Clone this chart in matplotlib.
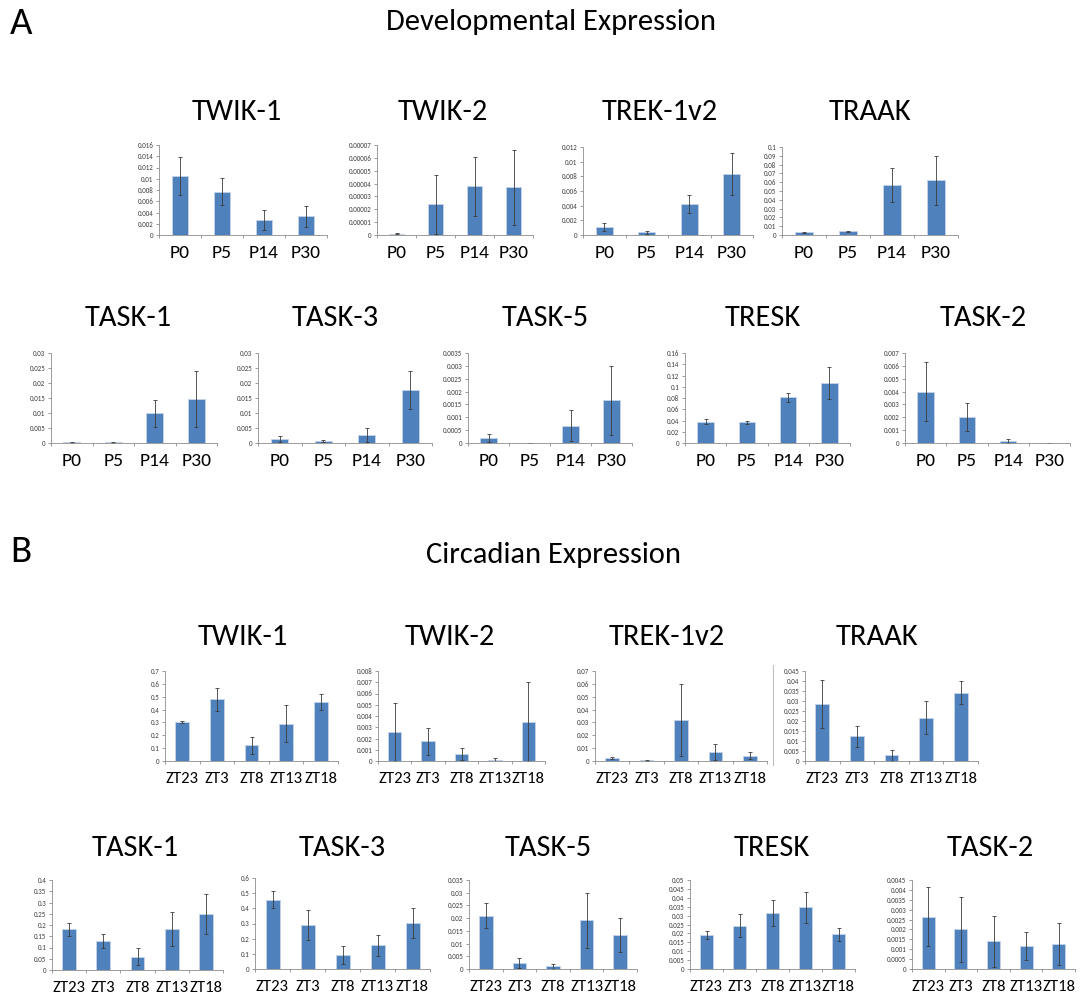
import matplotlib
matplotlib.use('Agg')
import matplotlib.pyplot as plt
from matplotlib.ticker import MultipleLocator, FuncFormatter
import numpy as np

W, H = 1081, 1000

# category labels
dev_labels = ['P0', 'P5', 'P14', 'P30']
circ_labels = ['ZT23', 'ZT3', 'ZT8', 'ZT13', 'ZT18']

# developmental expression (mean, error)
dev_twik1 = [0.0105, 0.0077, 0.0027, 0.0033]
dev_twik1_err = [0.0033, 0.0024, 0.0018, 0.0019]
dev_twik2 = [0.000001, 0.000024, 0.000038, 0.000037]
dev_twik2_err = [0.0000005, 0.000023, 0.000023, 0.0000295]
dev_trek = [0.0011, 0.0004, 0.0042, 0.0083]
dev_trek_err = [0.0005, 0.0002, 0.0012, 0.0029]
dev_traak = [0.003, 0.004, 0.057, 0.062]
dev_traak_err = [0.0005, 0.001, 0.019, 0.028]
dev_task1 = [0.0003, 0.0003, 0.0099, 0.0147]
dev_task1_err = [0.0002, 0.0002, 0.0044, 0.0093]
dev_task3 = [0.0014, 0.0007, 0.0027, 0.0176]
dev_task3_err = [0.0011, 0.0002, 0.0022, 0.0063]
dev_task5 = [0.00018, 0.0, 0.00068, 0.00166]
dev_task5_err = [0.00016, 0.0, 0.0006, 0.00133]
dev_tresk = [0.038, 0.037, 0.081, 0.107]
dev_tresk_err = [0.004, 0.003, 0.008, 0.029]
dev_task2 = [0.004, 0.002, 0.00015, 0.0]
dev_task2_err = [0.0023, 0.0011, 0.00015, 0.0]

# circadian expression (mean, error)
circ_twik1 = [0.305, 0.48, 0.122, 0.29, 0.462]
circ_twik1_err = [0.007, 0.09, 0.065, 0.143, 0.062]
circ_twik2 = [0.0026, 0.00175, 0.00065, 0.0001, 0.0035]
circ_twik2_err = [0.0026, 0.0012, 0.00055, 0.00015, 0.0035]
circ_trek = [0.0022, 0.0005, 0.032, 0.007, 0.0042]
circ_trek_err = [0.001, 0.0003, 0.028, 0.0065, 0.0027]
circ_traak = [0.0283, 0.0124, 0.0028, 0.0217, 0.0341]
circ_traak_err = [0.012, 0.0052, 0.0028, 0.0082, 0.0058]
circ_task1 = [0.181, 0.13, 0.06, 0.183, 0.251]
circ_task1_err = [0.028, 0.032, 0.036, 0.076, 0.089]
circ_task3 = [0.457, 0.288, 0.093, 0.155, 0.302]
circ_task3_err = [0.057, 0.1, 0.06, 0.068, 0.1]
circ_task5 = [0.021, 0.0025, 0.001, 0.0192, 0.0133]
circ_task5_err = [0.005, 0.002, 0.001, 0.0108, 0.0067]
circ_tresk = [0.0193, 0.0243, 0.0315, 0.0346, 0.0195]
circ_tresk_err = [0.0022, 0.0066, 0.0073, 0.0088, 0.0035]
circ_task2 = [0.00265, 0.002, 0.0014, 0.00115, 0.00126]
circ_task2_err = [0.0015, 0.00165, 0.0013, 0.0007, 0.00106]

# Carlito is metric-compatible with Calibri (the Excel look); Lato as fallback
plt.rcParams['font.family'] = ['Carlito', 'Lato', 'DejaVu Sans']
fig = plt.figure(figsize=(W / 100, H / 100), dpi=100)

BLUE = '#4f81bd'
GREY = '#8c8c8c'


def fmt(v, pos):
    s = f'{round(v, 10):.10f}'.rstrip('0').rstrip('.')
    return s


def panel(box, title, tx, ty, labels, means, errs, ymax, step):
    x0, y0, x1, y1 = box
    ax = fig.add_axes([x0 / W, 1 - y1 / H, (x1 - x0) / W, (y1 - y0) / H])
    x = np.arange(len(labels))
    ax.bar(x, means, width=0.4, color=BLUE, edgecolor='#c6d4e8', linewidth=0.6)
    ax.errorbar(x, means, yerr=errs, fmt='none', ecolor='#3a3a3a',
                elinewidth=0.6, capsize=1.5, capthick=0.6)
    ax.set_xlim(-0.5, len(labels) - 0.5)
    ax.set_ylim(0, ymax)
    ax.yaxis.set_major_locator(MultipleLocator(step))
    ax.yaxis.set_major_formatter(FuncFormatter(fmt))
    ax.set_xticks(x)
    # five ZT labels share a narrower slot than the four P labels
    five = len(labels) > 4
    ax.set_xticklabels(labels, fontsize=12 if five else 14)
    ax.set_xticks(np.arange(-0.5, len(labels)), minor=True)
    ax.tick_params(axis='x', which='major', length=0, pad=8 if five else 7)
    ax.tick_params(axis='x', which='minor', length=2.5, color=GREY, width=0.6)
    ax.tick_params(axis='y', length=2.5, color=GREY, width=0.6,
                   labelsize=5, labelcolor='#404040', pad=1.5)
    for s in ['top', 'right']:
        ax.spines[s].set_visible(False)
    for s in ['left', 'bottom']:
        ax.spines[s].set_color(GREY)
        ax.spines[s].set_linewidth(0.6)
    fig.text(tx / W, 1 - ty / H, title, fontsize=22, ha='center', va='center')
    return ax


# section headings
fig.text(21 / W, 1 - 24 / H, 'A', fontsize=28, ha='center', va='center')
fig.text(551 / W, 1 - 22 / H, 'Developmental Expression', fontsize=22,
         ha='center', va='center')
fig.text(21 / W, 1 - 552 / H, 'B', fontsize=28, ha='center', va='center')
fig.text(554 / W, 1 - 555 / H, 'Circadian Expression', fontsize=22,
         ha='center', va='center')

# row 1: developmental
panel((159, 145, 327, 235), 'TWIK-1', 237, 112, dev_labels, dev_twik1, dev_twik1_err, 0.016, 0.002)
panel((377, 145, 533, 235), 'TWIK-2', 443, 112, dev_labels, dev_twik2, dev_twik2_err, 0.00007, 0.00001)
panel((583, 147, 753, 235), 'TREK-1v2', 660, 112, dev_labels, dev_trek, dev_trek_err, 0.012, 0.002)
panel((782, 147, 958, 235), 'TRAAK', 870, 112, dev_labels, dev_traak, dev_traak_err, 0.1, 0.01)

# row 2: developmental
panel((51, 353, 217, 443), 'TASK-1', 128, 318, dev_labels, dev_task1, dev_task1_err, 0.03, 0.005)
panel((258, 353, 432, 443), 'TASK-3', 335, 318, dev_labels, dev_task3, dev_task3_err, 0.03, 0.005)
panel((468, 353, 632, 443), 'TASK-5', 545, 318, dev_labels, dev_task5, dev_task5_err, 0.0035, 0.0005)
panel((685, 353, 850, 443), 'TRESK', 763, 318, dev_labels, dev_tresk, dev_tresk_err, 0.16, 0.02)
panel((905, 353, 1070, 443), 'TASK-2', 983, 318, dev_labels, dev_task2, dev_task2_err, 0.007, 0.001)

# row 3: circadian
panel((165, 671, 338, 761), 'TWIK-1', 243, 637, circ_labels, circ_twik1, circ_twik1_err, 0.7, 0.1)
panel((378, 671, 545, 761), 'TWIK-2', 450, 637, circ_labels, circ_twik2, circ_twik2_err, 0.008, 0.001)
panel((595, 671, 767, 761), 'TREK-1v2', 667, 637, circ_labels, circ_trek, circ_trek_err, 0.07, 0.01)
panel((805, 671, 978, 761), 'TRAAK', 877, 637, circ_labels, circ_traak, circ_traak_err, 0.045, 0.005)
# stray divider line left of the TRAAK panel
fig.add_artist(plt.Line2D([773 / W, 773 / W], [1 - 665 / H, 1 - 765 / H],
                          color='#bfbfbf', linewidth=0.8))

# row 4: circadian
panel((52, 880, 223, 970), 'TASK-1', 135, 848, circ_labels, circ_task1, circ_task1_err, 0.4, 0.05)
panel((255, 878, 430, 969), 'TASK-3', 342, 848, circ_labels, circ_task3, circ_task3_err, 0.6, 0.1)
panel((469, 880, 637, 969), 'TASK-5', 548, 848, circ_labels, circ_task5, circ_task5_err, 0.035, 0.005)
panel((690, 880, 855, 969), 'TRESK', 772, 848, circ_labels, circ_tresk, circ_tresk_err, 0.05, 0.005)
panel((912, 880, 1075, 969), 'TASK-2', 990, 848, circ_labels, circ_task2, circ_task2_err, 0.0045, 0.0005)

fig.savefig('out.png', dpi=100)
